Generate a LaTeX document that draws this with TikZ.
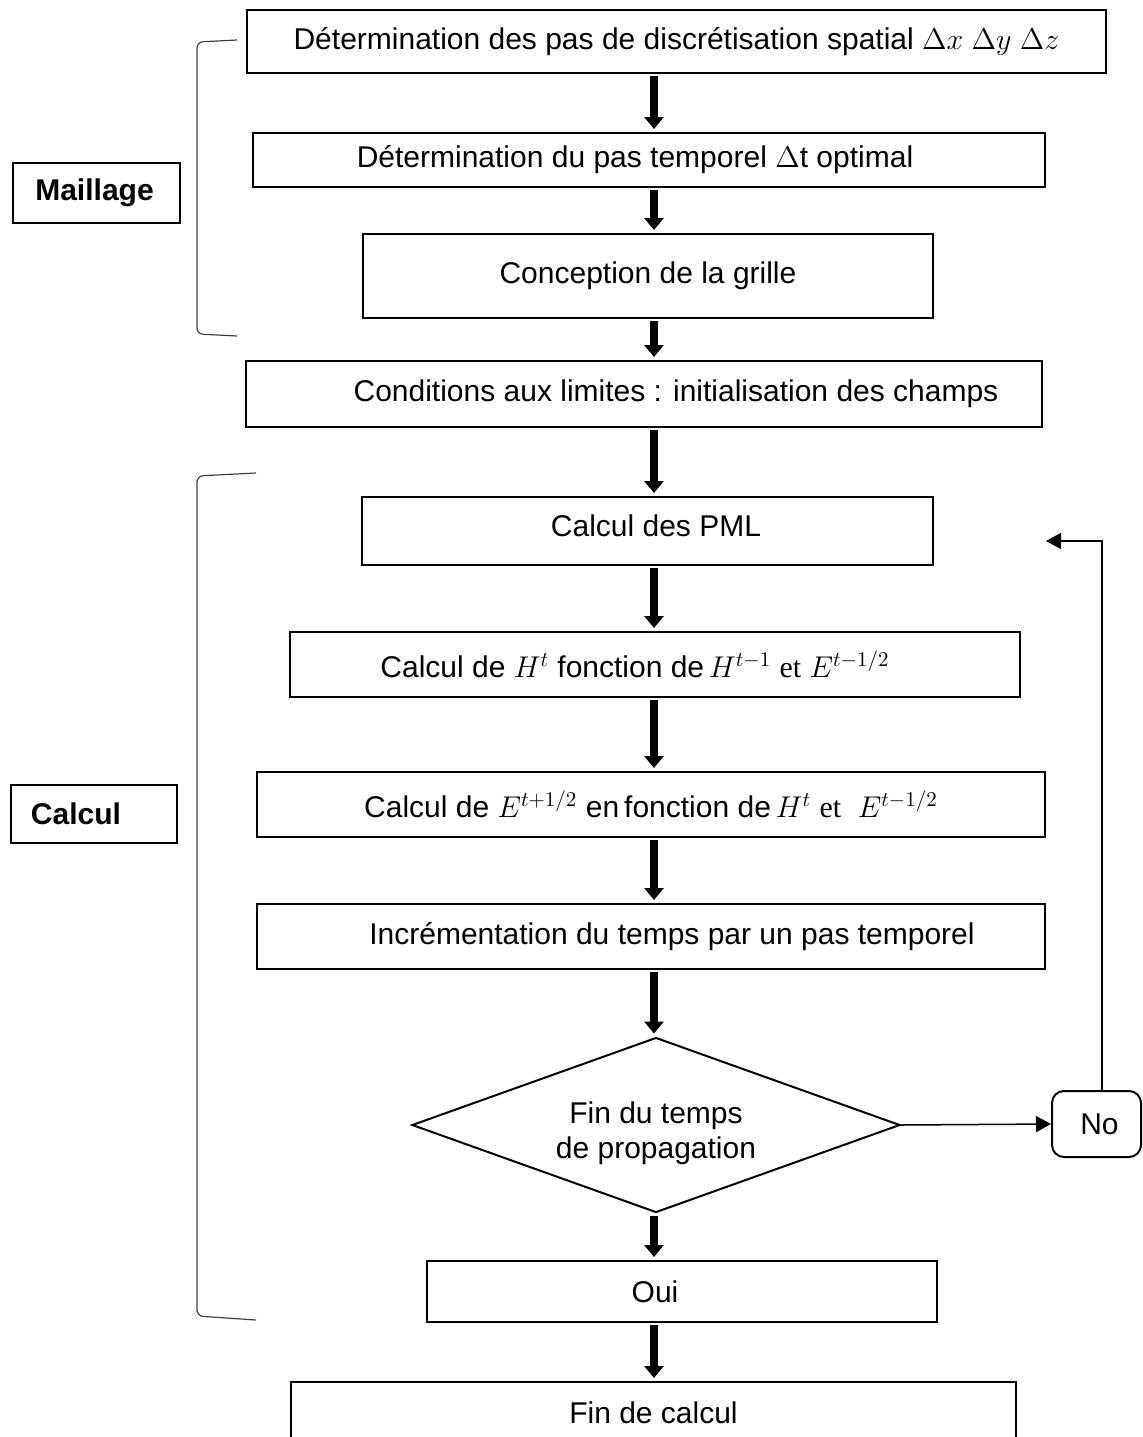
\RequirePackage{fix-cm}
\documentclass[tikz,border=0pt]{standalone}
\usepackage{fontspec}
\setmainfont{Liberation Sans}
\newfontfamily\serifet{Liberation Serif}
\usepackage{graphicx}
\usetikzlibrary{shapes.geometric,arrows.meta}
\newcommand{\et}{{\serifet et}}
\begin{document}
\begin{tikzpicture}[x=0.5pt,y=-0.5pt,
  box/.style={draw,line width=1pt,inner sep=0pt,align=center,
    font=\fontsize{15pt}{18pt}\selectfont},
  sidebox/.style={draw,line width=1pt,inner sep=0pt,
    font=\fontsize{15pt}{18pt}\selectfont\bfseries},
  decision/.style={draw,line width=1pt,shape=diamond,aspect=2.79,inner sep=0pt,
    align=center,font=\fontsize{15pt}{17.5pt}\selectfont},
  roundbox/.style={draw,line width=1pt,rounded corners=6pt,inner sep=0pt,
    font=\fontsize{15pt}{18pt}\selectfont},
  bigarrow/.style={line width=4.2pt,-{Triangle[width=9.5pt,length=6pt]},
    shorten <=1pt,shorten >=1.5pt},
  thinarrow/.style={line width=0.75pt,-{Triangle[width=8pt,length=7.5pt]}},
  bracket/.style={line width=0.6pt,draw=black!75,rounded corners=3pt}]
\useasboundingbox (0,0) rectangle (1143,1437);
\clip (0,0) rectangle (1143,1437);
\coordinate (ax) at (654,0);

\node[box,minimum width=429.5pt,minimum height=31.5pt] (b1) at (676.5,41.5)
  {Détermination des pas de discrétisation spatial $\Delta x\ \Delta y\ \Delta z$};
\node[box,minimum width=396pt,minimum height=27pt] (b2) at (649,160)
  {Détermination du pas temporel $\Delta$t optimal\hspace*{14pt}};
\node[box,minimum width=285pt,minimum height=42pt] (b3) at (648,276)
  {Conception de la grille};
\node[box,minimum width=398pt,minimum height=33pt] (b4) at (644,394)
  {\hspace*{32pt}Conditions aux limites : initialisation des champs};
\node[box,minimum width=285.5pt,minimum height=34pt] (b5) at (647.5,531)
  {\hspace*{8.5pt}\raisebox{5pt}{Calcul des PML}};
\node[box,minimum width=365pt,minimum height=32.5pt] (b6) at (655,664.5)
  {Calcul de $H^t$ fonction de\,$H^{t-1}$ \et{} $E^{t-1/2}$\hspace*{20pt}};
\node[box,minimum width=394pt,minimum height=32.5pt] (b7) at (651,804.5)
  {Calcul de $E^{t+1/2}$ en\,fonction de\,$H^t$ \et{}\ \ $E^{t-1/2}$};
\node[box,minimum width=394pt,minimum height=32.5pt] (b8) at (651,936.5)
  {\hspace*{21pt}Incrémentation du temps par un pas temporel};
\node[decision,minimum width=244pt,minimum height=87.5pt] (d) at (656,1125)
  {\\[2pt]Fin du temps\\de propagation};
\node[roundbox,minimum width=44.5pt,minimum height=33pt] (no) at (1096.5,1124)
  {\hspace*{3pt}No};
\node[box,minimum width=255pt,minimum height=30.5pt] (oui) at (682,1291.5)
  {Oui\hspace*{27pt}};
\node[box,minimum width=362.5pt,minimum height=31pt] (fin) at (653.5,1413)
  {Fin de calcul};

\node[sidebox,minimum width=83.5pt,minimum height=30pt] (mail) at (96.5,193)
  {\hspace*{-2pt}Maillage};
\node[sidebox,minimum width=83pt,minimum height=29pt] (calc) at (94,814)
  {Calcul\hspace*{18pt}};

\draw[bracket] (237,40) -- (197,42) -- (197,334) -- (237,336);
\draw[bracket] (256,473) -- (197,476) -- (197,1316) -- (256,1320);

\draw[bigarrow] (b1.south -| ax) -- (b2.north -| ax);
\draw[bigarrow] (b2.south -| ax) -- (b3.north -| ax);
\draw[bigarrow] (b3.south -| ax) -- (b4.north -| ax);
\draw[bigarrow] (b4.south -| ax) -- (b5.north -| ax);
\draw[bigarrow] (b5.south -| ax) -- (b6.north -| ax);
\draw[bigarrow] (b6.south -| ax) -- (b7.north -| ax);
\draw[bigarrow] (b7.south -| ax) -- (b8.north -| ax);
\draw[bigarrow] (b8.south -| ax) -- (d.north -| ax);
\draw[bigarrow] (d.south -| ax) -- (oui.north -| ax);
\draw[bigarrow] (oui.south -| ax) -- (fin.north -| ax);

\coordinate (loopend) at (1046,541);
\draw[thinarrow] (d.east) -- (no.west);
\draw[thinarrow] ([xshift=2.75pt]no.north) |- (loopend);
\end{tikzpicture}
\end{document}
